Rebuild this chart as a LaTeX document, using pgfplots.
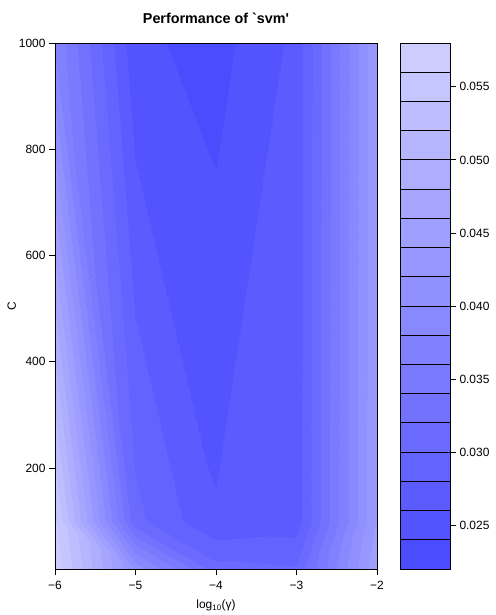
\documentclass[border=0pt]{standalone}
\usepackage{fontspec}
\setmainfont{Liberation Sans}
\newfontfamily\rawsans[Ligatures=TeXOff]{Liberation Sans}
\usepackage{pgfplots}
\pgfplotsset{compat=1.18}
\pgfplotsset{
  colormap={svm}{rgb=(0.3000,0.3000,1) rgb=(0.3294,0.3294,1) rgb=(0.3588,0.3588,1)
    rgb=(0.3882,0.3882,1) rgb=(0.4176,0.4176,1) rgb=(0.4471,0.4471,1)
    rgb=(0.4765,0.4765,1) rgb=(0.5059,0.5059,1) rgb=(0.5353,0.5353,1)
    rgb=(0.5647,0.5647,1) rgb=(0.5941,0.5941,1) rgb=(0.6235,0.6235,1)
    rgb=(0.6529,0.6529,1) rgb=(0.6824,0.6824,1) rgb=(0.7118,0.7118,1)
    rgb=(0.7412,0.7412,1) rgb=(0.7706,0.7706,1) rgb=(0.8000,0.8000,1)},
  rstyle/.style={
    scale only axis,
    tick align=outside, major tick length=6bp,
    tick style={black, line width=0.8bp},
    axis line style={black, line width=0.8bp},
    tick label style={font=\fontsize{12}{14}\selectfont},
    label style={font=\fontsize{12}{14}\selectfont},
    colormap name=svm, colormap access=piecewise constant,
    point meta min=0.022, point meta max=0.058,
    axis on top,
  },
}
\begin{document}
\begin{tikzpicture}
\path[use as bounding box] (0,0) rectangle (496bp,615bp);
\begin{axis}[rstyle,
  at={(55bp,46bp)}, anchor=south west,
  width=322bp, height=526bp,
  xmin=-6, xmax=-2, ymin=10, ymax=1000,
  xtick={-6,-5,-4,-3,-2}, xticklabels={−6,−5,−4,−3,−2},
  ytick={200,400,600,800,1000}, yticklabels={200,400,600,800,1000},
  tick pos=left,
  xticklabel style={yshift=-3bp},
  xlabel={log\textsubscript{10}(γ)},
  xlabel style={yshift=-3bp},
  ylabel={C},
  ylabel style={yshift=-4bp},
]
% triangles built from the 5 x 3 grid (log10 gamma, C, error)
\addplot[patch, shader=interp, point meta=explicit] table[x=x, y=y, meta=z] {
x y z
-6 1000 0.0376
-5 1000 0.0245
-5 100 0.0306
-6 1000 0.0376
-6 100 0.0562
-5 100 0.0306
-5 1000 0.0245
-4 1000 0.0232
-4 100 0.0262
-5 1000 0.0245
-5 100 0.0306
-4 100 0.0262
-4 100 0.0262
-3 1000 0.0265
-4 1000 0.0232
-4 100 0.0262
-3 100 0.0268
-3 1000 0.0265
-3 100 0.0268
-2 1000 0.0440
-3 1000 0.0265
-3 100 0.0268
-2 100 0.0442
-2 1000 0.0440
-6 100 0.0562
-5 100 0.0306
-5 10 0.0415
-6 100 0.0562
-6 10 0.0575
-5 10 0.0415
-5 100 0.0306
-4 100 0.0262
-4 10 0.0307
-5 100 0.0306
-5 10 0.0415
-4 10 0.0307
-4 10 0.0307
-3 100 0.0268
-4 100 0.0262
-4 10 0.0307
-3 10 0.0302
-3 100 0.0268
-3 10 0.0302
-2 100 0.0442
-3 100 0.0268
-3 10 0.0302
-2 10 0.0458
-2 100 0.0442
};
\end{axis}
\begin{axis}[rstyle,
  at={(400bp,46bp)}, anchor=south west,
  width=50bp, height=526bp,
  xmin=0, xmax=1, ymin=0.022, ymax=0.058,
  xtick=\empty, scaled y ticks=false,
  ytick={0.025,0.030,0.035,0.040,0.045,0.050,0.055},
  yticklabels={0.025,0.030,0.035,0.040,0.045,0.050,0.055},
  ytick pos=right, yticklabel pos=right,
]
\addplot[patch, shader=interp, point meta=explicit] table[x=x, y=y, meta=m] {
x y m
0 0.022 0.022
1 0.022 0.022
0 0.058 0.058
1 0.022 0.022
1 0.058 0.058
0 0.058 0.058
};
\pgfplotsinvokeforeach{0.024,0.026,0.028,0.030,0.032,0.034,0.036,0.038,0.040,0.042,0.044,0.046,0.048,0.050,0.052,0.054,0.056}{
  \addplot[black, line width=0.8bp] coordinates {(0,#1) (1,#1)};
}
\end{axis}
\node[anchor=base] at (216bp,591bp) {\rawsans\bfseries\fontsize{14.4}{17}\selectfont Performance of `svm'};
\end{tikzpicture}
\end{document}
